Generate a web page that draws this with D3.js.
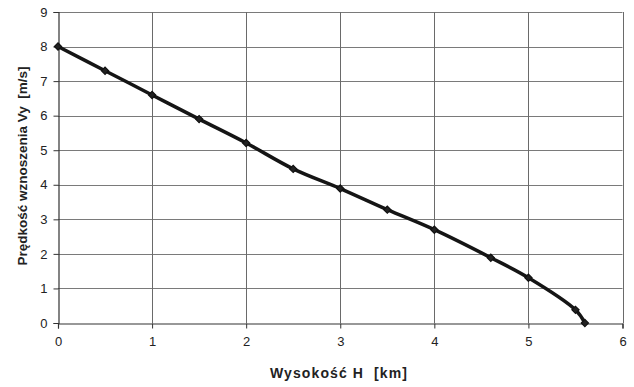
<!DOCTYPE html>
<html>
<head>
<meta charset="utf-8">
<script src="https://cdn.jsdelivr.net/npm/d3@7"></script>
<style>
  html, body { margin: 0; padding: 0; background: #fff; }
  svg { display: block; font-family: "Liberation Sans", Arial, sans-serif; }
  .title { white-space: pre; }
</style>
</head>
<body>
<svg id="chart" width="634" height="387"></svg>
<script>
// Altitude H [km] and climb rate Vy [m/s]
const altitudeKm = [0, 0.5, 1, 1.5, 2, 2.5, 3, 3.5, 4, 4.6, 5, 5.5, 5.6];
const climbRate = [8, 7.3, 6.6, 5.9, 5.21, 4.46, 3.89, 3.28, 2.7, 1.89, 1.31, 0.38, 0];
const xTicks = [0, 1, 2, 3, 4, 5, 6];
const yTicks = [0, 1, 2, 3, 4, 5, 6, 7, 8, 9];
const xTitle = "Wysokość H  [km]";
const yTitle = "Prędkość wznoszenia Vy  [m/s]";

const svg = d3.select("#chart");
const plotLeft = 58, plotRight = 622.5, plotTop = 12, plotBottom = 323;

const x = d3.scaleLinear().domain([0, 6]).range([plotLeft, plotRight]);
const y = d3.scaleLinear().domain([0, 9]).range([plotBottom, plotTop]);

// grid
const grid = svg.append("g");
grid.selectAll("line.h").data(yTicks.filter(d => d > 0)).join("line")
  .attr("x1", plotLeft).attr("x2", plotRight)
  .attr("y1", d => Math.round(y(d)) + 0.5).attr("y2", d => Math.round(y(d)) + 0.5)
  .attr("stroke", "#7a7a7a").attr("stroke-width", 1);
grid.selectAll("line.v").data(xTicks.filter(d => d > 0)).join("line")
  .attr("y1", plotTop).attr("y2", plotBottom)
  .attr("x1", d => Math.round(x(d)) + 0.5).attr("x2", d => Math.round(x(d)) + 0.5)
  .attr("stroke", "#6a6a6a").attr("stroke-width", 1);

// axes
const xAxis = svg.append("g")
  .attr("transform", `translate(0,${Math.round(plotBottom) + 0.5})`)
  .call(d3.axisBottom(x).tickValues(xTicks).tickSize(5).tickPadding(8).tickFormat(d3.format("d")));
const yAxis = svg.append("g")
  .attr("transform", `translate(${Math.round(plotLeft) + 0.5},0)`)
  .call(d3.axisLeft(y).tickValues(yTicks).tickSize(5).tickPadding(6).tickFormat(d3.format("d")));
[xAxis, yAxis].forEach(a => {
  a.select(".domain").attr("stroke", "#333").attr("stroke-width", 1.2);
  a.selectAll(".tick line").attr("stroke", "#333");
  a.selectAll(".tick text").attr("fill", "#222").style("font-size", "13px")
    .style("font-family", "'Liberation Sans', Arial, sans-serif");
});

// series line
const line = d3.line()
  .x((d, i) => x(altitudeKm[i]))
  .y(d => y(d))
  .curve(d3.curveCatmullRom.alpha(0.5));
svg.append("path")
  .datum(climbRate)
  .attr("d", line)
  .attr("fill", "none")
  .attr("stroke", "#151515")
  .attr("stroke-width", 3.5)
  .attr("stroke-linejoin", "round");

// diamond markers (squares turned 45°)
const marker = d3.symbol().type(d3.symbolSquare).size(26);
svg.selectAll("path.marker").data(climbRate).join("path")
  .attr("class", "marker")
  .attr("d", marker)
  .attr("transform", (d, i) => `translate(${x(altitudeKm[i])},${y(d)}) rotate(45)`)
  .attr("fill", "#222").attr("stroke", "#111").attr("stroke-width", 1.2);

// titles
svg.append("text")
  .attr("class", "title")
  .attr("x", 339).attr("y", 378)
  .attr("text-anchor", "middle")
  .style("font-size", "14px").style("font-weight", "bold").style("letter-spacing", "1.1px")
  .attr("fill", "#222")
  .text(xTitle);
svg.append("text")
  .attr("class", "title")
  .attr("transform", `translate(27,166) rotate(-90)`)
  .attr("text-anchor", "middle")
  .style("font-size", "13.5px").style("font-weight", "bold")
  .attr("fill", "#222")
  .text(yTitle);
</script>
</body>
</html>
